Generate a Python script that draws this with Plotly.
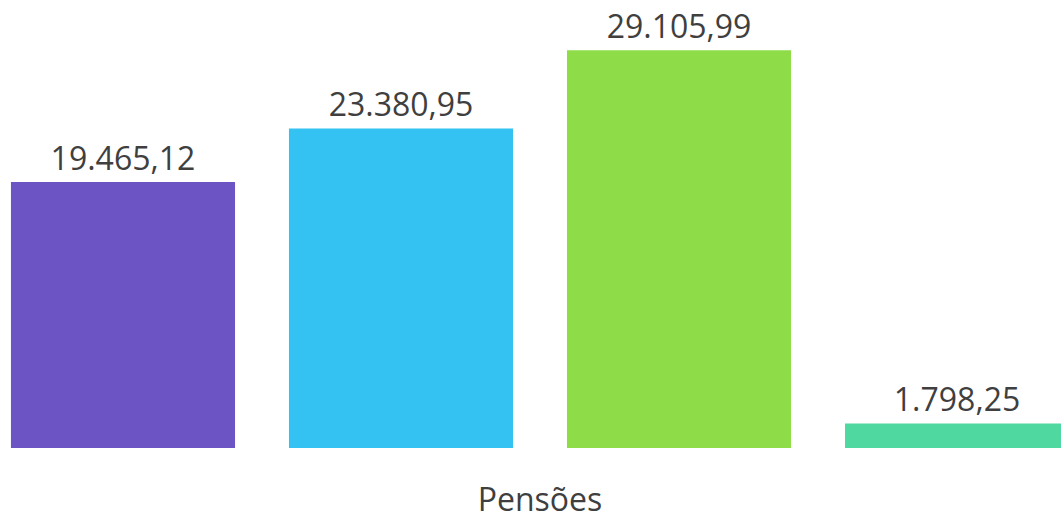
import plotly.graph_objects as go

# Pension totals by series
category = ["Pensões"]
series_names = ["Série 1", "Série 2", "Série 3", "Série 4"]
series_values = [19465.12, 23380.95, 29105.99, 1798.25]
series_colors = ["#6C54C4", "#33C2F2", "#8EDC48", "#4FD8A0"]

fig = go.Figure()
for name, val, col in zip(series_names, series_values, series_colors):
    fig.add_trace(go.Bar(
        x=category,
        y=[val],
        name=name,
        marker=dict(color=col, line=dict(width=0)),
        texttemplate="%{y:,.2f}",
        textposition="outside",
        textfont=dict(family="Open Sans", size=32, color="#3F3F3F"),
        cliponaxis=False,
    ))

fig.update_layout(
    width=1061,
    height=520,
    margin=dict(l=0, r=0, t=0, b=69),
    paper_bgcolor="white",
    plot_bgcolor="white",
    showlegend=False,
    barmode="group",
    bargap=0,
    bargroupgap=0.194,
    separators=",.",
    xaxis=dict(
        range=[-0.4856, 0.4685],
        showgrid=False,
        showline=False,
        zeroline=False,
        ticks="",
        ticklabelstandoff=30,
        tickfont=dict(family="Open Sans", size=32, color="#3F3F3F"),
    ),
    yaxis=dict(
        range=[0, 32776],
        visible=False,
        showgrid=False,
        zeroline=False,
    ),
)

fig.write_html("out.html")
